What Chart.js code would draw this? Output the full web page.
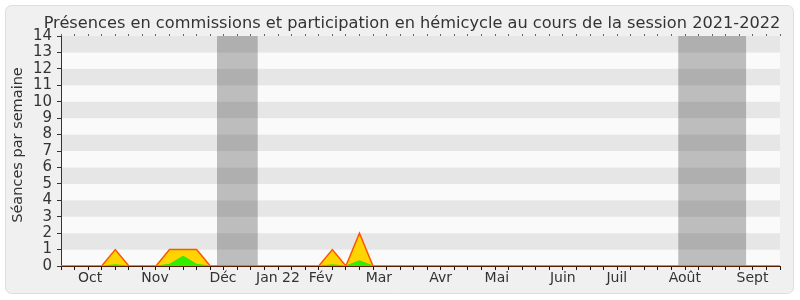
<!DOCTYPE html>
<html><head><meta charset="utf-8">
<script src="https://cdn.jsdelivr.net/npm/chart.js@4/dist/chart.umd.min.js"></script>
<style>html,body{margin:0;padding:0;background:#fff}canvas{display:block}</style>
</head><body>
<canvas id="c" width="800" height="300"></canvas>
<script>
const titleText = 'Présences en commissions et participation en hémicycle au cours de la session 2021-2022';
const yTitle = 'Séances par semaine';
const weekIdx = [0,1,2,3,4,5,6,7,8,9,10,11,12,13,14,15,16,17,18,19,20,21,22,23,24,25,26,27,28,29,30,31,32,33,34,35,36,37,38,39,40,41,42,43,44,45,46,47,48,49,50,51,52,53];
const commissions = [0,0,0,0,1,0,0,0,1,1,1,0,0,0,0,0,0,0,0,0,1,0,2,0,0,0,0,0,0,0,0,0,0,0,0,0,0,0,0,0,0,0,0,0,0,0,0,0,0,0,0,0,0,0];
const hemicycle   = [0,0,0,0,0.07,0,0,0,0.1,0.6,0.1,0,0,0,0,0,0,0,0,0,0.07,0,0.32,0,0,0,0,0,0,0,0,0,0,0,0,0,0,0,0,0,0,0,0,0,0,0,0,0,0,0,0,0,0,0];
const monthLabels = ['Oct','Nov','Déc','Jan 22','Fév','Mar','Avr','Mai','Juin','Juil','Août','Sept'];
const monthPos = [2.14,6.93,11.94,15.99,19.16,23.43,27.98,32.13,36.99,40.97,45.98,50.97];
const yTicks = [0,1,2,3,4,5,6,7,8,9,10,11,12,13,14];
const vacations = [[11.5,14.5],[45.5,50.5]];

Chart.defaults.font.family = '"DejaVu Sans", Verdana, sans-serif';

const bgPlugin = {
  id: 'bg',
  beforeDraw(chart) {
    const ctx = chart.ctx, a = chart.chartArea;
    const x = chart.scales.x, y = chart.scales.y;
    ctx.save();
    ctx.fillStyle = '#ffffff';
    ctx.fillRect(0, 0, chart.width, chart.height);
    ctx.beginPath();
    ctx.roundRect(5.5, 5.5, 788, 288, 6);
    ctx.fillStyle = '#f0f0f0';
    ctx.fill();
    ctx.strokeStyle = '#dedede';
    ctx.lineWidth = 1;
    ctx.stroke();
    for (let i = 0; i < yTicks.length - 1; i++) {
      const y0 = y.getPixelForValue(yTicks[i]), y1 = y.getPixelForValue(yTicks[i + 1]);
      ctx.fillStyle = (i % 2 === 1) ? '#e6e6e6' : '#fafafa';
      ctx.fillRect(a.left, y1, a.right - a.left, y0 - y1);
    }
    ctx.fillStyle = 'rgba(50,50,50,0.3)';
    vacations.forEach(v => {
      const x0 = x.getPixelForValue(v[0]), x1 = x.getPixelForValue(v[1]);
      ctx.fillRect(x0, a.top, x1 - x0, a.bottom - a.top);
    });
    ctx.restore();
  },
  afterDraw(chart) {
    const ctx = chart.ctx;
    ctx.save();
    ctx.fillStyle = '#333';
    ctx.font = '16.2px "DejaVu Sans"';
    ctx.textAlign = 'center';
    ctx.textBaseline = 'alphabetic';
    ctx.fillText(titleText, 412, 28);
    ctx.translate(18, 145);
    ctx.rotate(-Math.PI / 2);
    ctx.font = '14.5px "DejaVu Sans"';
    ctx.textBaseline = 'middle';
    ctx.fillText(yTitle, 0, 0);
    ctx.restore();
  }
};

const weekTicks = s => { s.ticks = weekIdx.map(v => ({ value: v })); };

new Chart(document.getElementById('c'), {
  type: 'line',
  data: {
    datasets: [
      {
        label: 'Participation en hémicycle',
        data: weekIdx.map((w, i) => ({ x: w, y: hemicycle[i] })),
        backgroundColor: 'rgb(51,238,0)',
        borderColor: 'rgb(51,230,0)',
        borderWidth: 1,
        pointRadius: 0,
        fill: 'origin',
        tension: 0
      },
      {
        label: 'Présences en commissions',
        data: weekIdx.map((w, i) => ({ x: w, y: commissions[i] })),
        backgroundColor: 'rgb(255,212,0)',
        borderColor: 'rgb(255,85,0)',
        borderWidth: 1.5,
        pointRadius: 0,
        fill: 'origin',
        tension: 0
      }
    ]
  },
  options: {
    responsive: false,
    animation: false,
    layout: { padding: { left: 0, right: 20, top: 34, bottom: 0 } },
    plugins: { legend: { display: false }, tooltip: { enabled: false }, title: { display: false } },
    scales: {
      x: {
        type: 'linear', position: 'bottom', min: 0, max: 53, z: 1,
        afterBuildTicks: weekTicks,
        afterFit: s => { s.height = 4; },
        ticks: { display: false, autoSkip: false },
        grid: { drawOnChartArea: false, drawTicks: true, tickLength: 4, tickColor: '#111', tickWidth: 1 },
        border: { display: true, color: '#5a1e00', width: 1 }
      },
      xm: {
        type: 'linear', position: 'bottom', min: 0, max: 53,
        afterBuildTicks: s => { s.ticks = monthPos.map(v => ({ value: v })); },
        afterFit: s => { s.height = 30; },
        ticks: { autoSkip: false, maxRotation: 0, padding: 0, color: '#333', font: { size: 14 },
                 callback: (v, i) => monthLabels[i] },
        grid: { display: false, drawTicks: false },
        border: { display: false }
      },
      xt: {
        type: 'linear', position: 'top', min: 0, max: 53,
        afterBuildTicks: weekTicks,
        afterFit: s => { s.height = 2; },
        ticks: { display: false },
        grid: { drawOnChartArea: false, drawTicks: true, tickLength: 2, tickColor: '#666' },
        border: { display: false }
      },
      y: {
        type: 'linear', min: 0, max: 14,
        afterBuildTicks: s => { s.ticks = yTicks.map(v => ({ value: v })); },
        afterFit: s => { s.width = 61; },
        ticks: { padding: 5, color: '#333', font: { size: 15 }, autoSkip: false },
        grid: { drawOnChartArea: false, drawTicks: true, tickLength: 4, tickColor: '#333' },
        border: { display: true, color: '#333', width: 1 }
      }
    }
  },
  plugins: [bgPlugin]
});
</script>
</body></html>
